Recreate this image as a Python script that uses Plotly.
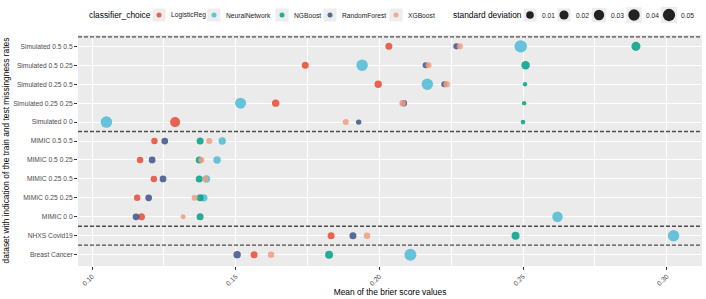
import plotly.graph_objects as go

# ---- data (category order bottom -> top) ----
categories = [
    "Breast Cancer", "NHXS Covid19", "MIMIC 0 0", "MIMIC 0.25 0.25",
    "MIMIC 0.25 0.5", "MIMIC 0.5 0.25", "MIMIC 0.5 0.5", "Simulated 0 0",
    "Simulated 0.25 0.25", "Simulated 0.25 0.5", "Simulated 0.5 0.25", "Simulated 0.5 0.5",
]
classifiers = ["LogisticReg", "NeuralNetwork", "NGBoost", "RandomForest", "XGBoost"]

brier_logreg = [0.1564, 0.1832, 0.1172, 0.1157, 0.1215, 0.1167, 0.1217, 0.1289, 0.1639, 0.1996, 0.1742, 0.2033]
brier_nn     = [0.2108, 0.3024, 0.2620, 0.1389, 0.1398, 0.1435, 0.1453, 0.1050, 0.1517, 0.2167, 0.1940, 0.2492]
brier_ngb    = [0.1825, 0.2474, 0.1376, 0.1376, 0.1373, 0.1373, 0.1376, 0.2500, 0.2504, 0.2507, 0.2509, 0.2893]
brier_rf     = [0.1505, 0.1908, 0.1153, 0.1197, 0.1247, 0.1209, 0.1253, 0.1928, 0.2085, 0.2226, 0.2161, 0.2268]
brier_xgb    = [0.1623, 0.1957, 0.1317, 0.1357, 0.1394, 0.1380, 0.1408, 0.1883, 0.2081, 0.2234, 0.2171, 0.2280]

sd_logreg = [0.007, 0.007, 0.007, 0.005, 0.005, 0.005, 0.005, 0.027, 0.009, 0.009, 0.007, 0.007]
sd_nn     = [0.047, 0.041, 0.031, 0.009, 0.009, 0.009, 0.009, 0.041, 0.036, 0.041, 0.041, 0.052]
sd_ngb    = [0.012, 0.012, 0.007, 0.007, 0.007, 0.007, 0.007, 0.0008, 0.0006, 0.0006, 0.015, 0.019]
sd_rf     = [0.009, 0.007, 0.006, 0.006, 0.006, 0.006, 0.006, 0.002, 0.005, 0.0035, 0.0035, 0.0035]
sd_xgb    = [0.005, 0.005, 0.0012, 0.0035, 0.0035, 0.0035, 0.0035, 0.0035, 0.005, 0.005, 0.0035, 0.0035]

sd_legend_values = [0.01, 0.02, 0.03, 0.04, 0.05]
sd_legend_labels = ["0.01", "0.02", "0.03", "0.04", "0.05"]
x_tick_values = [0.10, 0.15, 0.20, 0.25, 0.30]
x_tick_labels = ["0.10", "0.15", "0.20", "0.25", "0.30"]
group_boundaries = [1.5, 2.5, 7.5, 12.5]

# ---- style / layout ----
W, H = 706, 299
ML, MR, MT, MB = 78, 4, 35, 33
PW, PH = W - ML - MR, H - MT - MB
colors = {"LogisticReg": "#E64B35", "NeuralNetwork": "#4DBBD5", "NGBoost": "#00A087",
          "RandomForest": "#3C5488", "XGBoost": "#F39B7F"}
SD_MIN, SD_MAX = 0.0005, 0.053
D_MIN, D_MAX = 4.0, 12.5
LEGEND_Y_PX = 15
class_key_px = [159, 214, 282, 330, 396]   # legend key centres (layout, px)
sd_key_px = [530, 564, 599, 634, 669]
KEY_OFFSET = 20                              # plotly symbol centre offset inside an entry
LABEL_GAP = 10
KEY_BG = "#EDEDED"
FONT = "Liberation Sans, Arial, sans-serif"


def size_of(sd):
    t = max(0.0, (sd - SD_MIN) / (SD_MAX - SD_MIN))
    return D_MIN + (D_MAX - D_MIN) * t ** 0.5


def px_to_paper_x(px):
    return (px - ML) / PW


legend_y = 1 + (MT - LEGEND_Y_PX) / PH

series = {
    "LogisticReg": (brier_logreg, sd_logreg),
    "NeuralNetwork": (brier_nn, sd_nn),
    "NGBoost": (brier_ngb, sd_ngb),
    "RandomForest": (brier_rf, sd_rf),
    "XGBoost": (brier_xgb, sd_xgb),
}
ypos = list(range(1, len(categories) + 1))

fig = go.Figure()
for name in classifiers:
    xs, sds = series[name]
    fig.add_trace(go.Scatter(
        x=xs, y=ypos, mode="markers", name=name, showlegend=False,
        marker=dict(color=colors[name], size=[size_of(s) for s in sds],
                    opacity=0.85, line=dict(width=0)),
        hovertext=[f"{c}<br>sd={s}" for c, s in zip(categories, sds)],
    ))

legend_layouts = {}


def legend_id(k):
    return "legend" if k == 0 else f"legend{k + 1}"


def legend_box(px):
    return dict(orientation="h", xanchor="left", yanchor="middle",
                xref="paper", yref="paper", y=legend_y,
                x=px_to_paper_x(px - KEY_OFFSET),
                font=dict(size=6.7, color="#000"), itemwidth=30,
                bgcolor="rgba(0,0,0,0)", itemsizing="trace", borderwidth=0)


def key_label(text, px):
    fig.add_annotation(text=text, xref="paper", yref="paper",
                       x=px_to_paper_x(px + LABEL_GAP), y=legend_y,
                       xanchor="left", yanchor="middle", showarrow=False,
                       font=dict(size=6.7, color="#1A1A1A"))


def key_background(px, d):
    half = max(13, d + 4) / 2
    fig.add_shape(type="rect", xref="paper", yref="paper",
                  xsizemode="pixel", ysizemode="pixel",
                  xanchor=px_to_paper_x(px), yanchor=legend_y,
                  x0=-half, x1=half, y0=-half, y1=half,
                  fillcolor=KEY_BG, line=dict(width=0), layer="below")


k = 0
for name, kp in zip(classifiers, class_key_px):
    lid = legend_id(k)
    fig.add_trace(go.Scatter(
        x=[None], y=[None], mode="markers", name=" ", legend=lid, legendgroup=name,
        marker=dict(color=colors[name], size=5, opacity=0.85, line=dict(width=0)),
    ))
    legend_layouts[lid] = legend_box(kp)
    key_background(kp, 5)
    key_label(name, kp)
    k += 1
for v, lab, kp in zip(sd_legend_values, sd_legend_labels, sd_key_px):
    lid = legend_id(k)
    fig.add_trace(go.Scatter(
        x=[None], y=[None], mode="markers", name=" ", legend=lid,
        marker=dict(color="#222222", size=size_of(v), line=dict(width=0)),
    ))
    legend_layouts[lid] = legend_box(kp)
    key_background(kp, size_of(v))
    key_label(lab, kp)
    k += 1

for b in group_boundaries:
    fig.add_shape(type="line", xref="paper", x0=0, x1=1, yref="y", y0=b, y1=b,
                  line=dict(color="#4D4D4D", width=1.4, dash="4px,2px"), layer="above")

fig.add_annotation(text="classifier_choice", xref="paper", yref="paper",
                   x=px_to_paper_x(87), y=legend_y, xanchor="left", yanchor="middle",
                   showarrow=False, font=dict(size=8.4, color="#000"))
fig.add_annotation(text="standard deviation", xref="paper", yref="paper",
                   x=px_to_paper_x(451), y=legend_y, xanchor="left", yanchor="middle",
                   showarrow=False, font=dict(size=8.4, color="#000"))

fig.update_layout(
    width=W, height=H,
    margin=dict(l=ML, r=MR, t=MT, b=MB, autoexpand=False),
    paper_bgcolor="white", plot_bgcolor="#EBEBEB",
    font=dict(family=FONT, color="#000000"),
    xaxis=dict(range=[0.0951, 0.3123], tickvals=x_tick_values, ticktext=x_tick_labels,
               tickangle=-45, tickfont=dict(size=6.7, color="#4D4D4D"),
               ticks="outside", ticklen=3, tickcolor="#333333", tickwidth=0.8,
               showgrid=True, gridcolor="white", gridwidth=1.1, zeroline=False,
               minor=dict(dtick=0.025, tick0=0.075, showgrid=True, gridcolor="white", gridwidth=0.5),
               showline=False,
               title=dict(text="Mean of the brier score values", font=dict(size=8.4), standoff=0),
               automargin=False),
    yaxis=dict(range=[0.4, 12.6], tickvals=ypos, ticktext=categories,
               tickfont=dict(size=6.7, color="#4D4D4D"),
               ticks="outside", ticklen=3, tickcolor="#333333", tickwidth=0.8,
               showgrid=True, gridcolor="white", gridwidth=1.1, zeroline=False,
               showline=False,
               title=dict(text="dataset with indication of the train and test missingness rates",
                          font=dict(size=8.4), standoff=2),
               automargin=False),
    **legend_layouts,
)

# remove the browser's default 8px page margin so the figure sits at the window origin
fig.write_html("out.html", config={"displayModeBar": False},
               post_script="document.body.style.margin='0px';")
